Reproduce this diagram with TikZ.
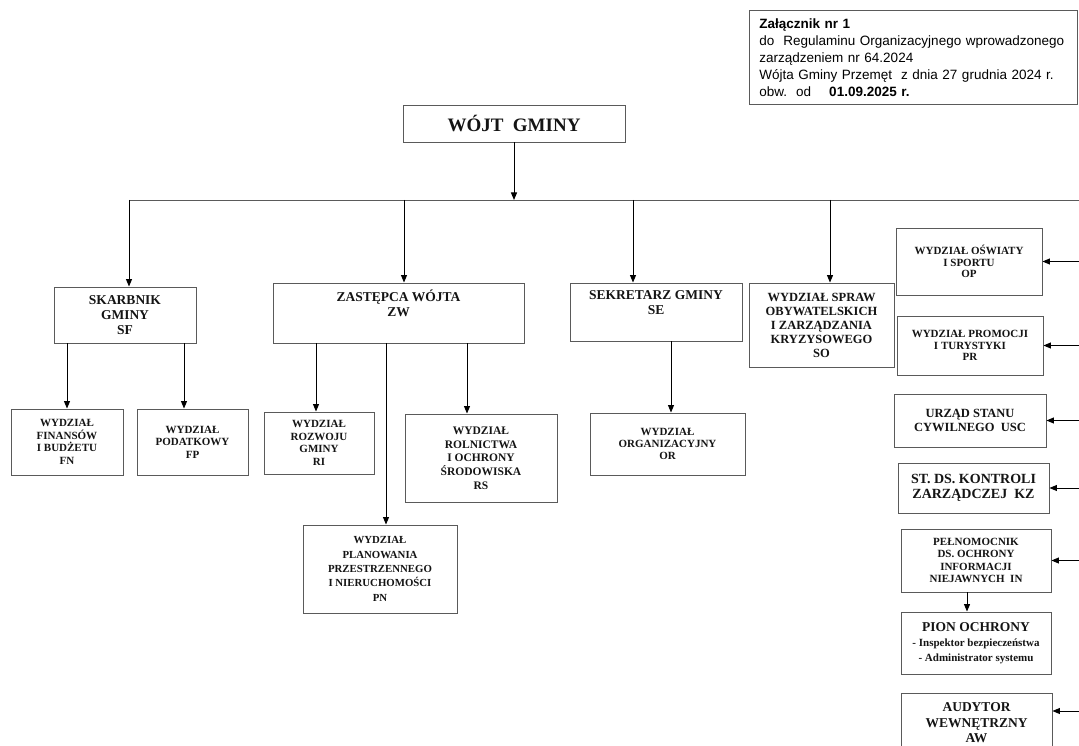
\documentclass[tikz,border=0pt]{standalone}
\usepackage{fontspec}
\setmainfont{Liberation Serif}
\setsansfont{Liberation Sans}
\usepackage{xcolor}
\usepackage{tikz}
\usetikzlibrary{arrows.meta}
\definecolor{orgGray}{RGB}{90, 90, 90}
\definecolor{orgInk}{RGB}{20, 20, 20}
\tikzset{
    post/.style={
        rectangle,
        draw=orgGray,
        line width=0.9pt,
        fill=white,
        text=orgInk,
        align=center,
        inner sep=1pt,
        font=\bfseries
    },
    note/.style={
        rectangle,
        draw=orgGray,
        line width=0.9pt,
        fill=white,
        text=black,
        align=left,
        anchor=north west,
        inner xsep=10pt,
        inner ysep=2pt,
        font=\sffamily\fontsize{13.5}{17}\selectfont
    },
    flow/.style={
        -{Triangle[length=7.5pt, width=6pt]},
        line width=1pt,
        color=black
    },
    rail/.style={
        line width=0.9pt,
        color=orgGray
    }
}

\begin{document}
\begin{tikzpicture}[x=1pt, y=-1pt]
  \useasboundingbox (0,0) rectangle (1079,746);
  \clip (0,0) rectangle (1079,746);

  % Header note
  \node[note, text width=308pt, minimum height=94pt] (att) at (749,10) {
      \textbf{Załącznik nr 1}\\
      do~~Regulaminu Organizacyjnego wprowadzonego\\
      zarządzeniem nr 64.2024\\
      Wójta Gminy Przemęt~~z dnia 27 grudnia 2024 r.\\
      obw.~~od\hspace{18pt}\textbf{01.09.2025 r.}
  };

  % Head
  \node[post, minimum width=222, minimum height=37, font=\bfseries\fontsize{19}{21}\selectfont] (wojt) at (514,123.5) {WÓJT\ \ GMINY};

  % Second level
  \node[post, minimum width=142, minimum height=56, font=\bfseries\fontsize{13.5}{15}\selectfont] (sf) at (125,315) {SKARBNIK\\GMINY\\SF};
  \node[post, minimum width=251, minimum height=60, font=\bfseries\fontsize{13.5}{15}\selectfont] (zw) at (398.5,313) {ZASTĘPCA WÓJTA\\ZW\\ \strut};
  \node[post, minimum width=172, minimum height=58, font=\bfseries\fontsize{13.5}{15}\selectfont] (se) at (656,312) {SEKRETARZ GMINY\\SE\\ \strut};
  \node[post, minimum width=145, minimum height=84, font=\bfseries\fontsize{12.5}{14}\selectfont] (so) at (821.5,325) {WYDZIAŁ SPRAW\\OBYWATELSKICH\\I ZARZĄDZANIA\\KRYZYSOWEGO\\SO};

  % Departments
  \node[post, minimum width=112, minimum height=66, font=\bfseries\fontsize{11}{12.5}\selectfont] (fn) at (67,442) {WYDZIAŁ\\FINANSÓW\\I BUDŻETU\\FN};
  \node[post, minimum width=111, minimum height=66, font=\bfseries\fontsize{11}{12.5}\selectfont] (fp) at (192.5,442) {WYDZIAŁ\\PODATKOWY\\FP};
  \node[post, minimum width=110, minimum height=62, font=\bfseries\fontsize{11}{12.5}\selectfont] (ri) at (319,443) {WYDZIAŁ\\ROZWOJU\\GMINY\\RI};
  \node[post, minimum width=152, minimum height=88, font=\bfseries\fontsize{11.5}{13.7}\selectfont] (rs) at (481,458) {WYDZIAŁ\\ROLNICTWA\\I OCHRONY\\ŚRODOWISKA\\RS};
  \node[post, minimum width=154, minimum height=88, font=\bfseries\fontsize{10.8}{14.3}\selectfont] (pn) at (380,569) {WYDZIAŁ\\PLANOWANIA\\PRZESTRZENNEGO\\I NIERUCHOMOŚCI\\PN};
  \node[post, minimum width=155, minimum height=62, font=\bfseries\fontsize{11}{12.3}\selectfont] (or) at (667.5,444) {WYDZIAŁ\\ORGANIZACYJNY\\OR};

  % Right column
  \node[post, minimum width=146, minimum height=67, font=\bfseries\fontsize{11}{11.3}\selectfont] (op) at (969,261.5) {WYDZIAŁ OŚWIATY\\I SPORTU\\OP};
  \node[post, minimum width=146, minimum height=59, font=\bfseries\fontsize{11}{11.3}\selectfont] (pr) at (970,345.5) {WYDZIAŁ PROMOCJI\\I TURYSTYKI\\PR};
  \node[post, minimum width=152, minimum height=53, font=\bfseries\fontsize{12.5}{13.5}\selectfont] (usc) at (970,420.5) {URZĄD STANU\\CYWILNEGO~~USC};
  \node[post, minimum width=151, minimum height=50, font=\bfseries\fontsize{14}{15}\selectfont] (kz) at (973.5,488) {ST. DS. KONTROLI\\ZARZĄDCZEJ~~KZ};
  \node[post, minimum width=150, minimum height=63, font=\bfseries\fontsize{11}{12.3}\selectfont] (inj) at (976,560.5) {PEŁNOMOCNIK\\DS. OCHRONY\\INFORMACJI\\NIEJAWNYCH~~IN};
  \node[post, minimum width=150, minimum height=62, font=\bfseries\fontsize{13.5}{15}\selectfont] (pion) at (976,643) {PION OCHRONY\\\fontsize{11}{14.5}\selectfont - Inspektor bezpieczeństwa\\\fontsize{11}{14.5}\selectfont - Administrator systemu};
  \node[post, minimum width=151, minimum height=60, font=\bfseries\fontsize{13.5}{15.5}\selectfont] (aw) at (976.5,723) {AUDYTOR\\WEWNĘTRZNY\\AW};

  % Rail and entry points
  \coordinate (rail) at (129,200);
  \coordinate (edge) at (1079,200);
  \coordinate (sfIn) at ([xshift=4pt]sf.north);
  \coordinate (zwIn) at ([xshift=5.5pt]zw.north);
  \coordinate (seIn) at ([xshift=-23pt]se.north);
  \coordinate (soIn) at ([xshift=8.5pt]so.north);
  \coordinate (fpIn) at ([xshift=-8.5pt]fp.north);
  \coordinate (riIn) at ([xshift=-3pt]ri.north);
  \coordinate (pnIn) at ([xshift=6pt]pn.north);
  \coordinate (rsIn) at ([xshift=-14pt]rs.north);
  \coordinate (orIn) at ([xshift=3.5pt]or.north);
  \coordinate (pionIn) at ([xshift=-9pt]pion.north);
  \coordinate (awIn) at ([yshift=12pt]aw.east);

  \draw[rail] (rail) -- (edge);
  \draw[flow] (wojt) -- (wojt |- rail);

  % Drops from the rail
  \draw[flow] (sfIn |- rail) -- (sfIn);
  \draw[flow] (zwIn |- rail) -- (zwIn);
  \draw[flow] (seIn |- rail) -- (seIn);
  \draw[flow] (soIn |- rail) -- (soIn);

  % Second level to departments
  \draw[flow] (fn |- sf.south) -- (fn);
  \draw[flow] (fpIn |- sf.south) -- (fpIn);
  \draw[flow] (riIn |- zw.south) -- (riIn);
  \draw[flow] (pnIn |- zw.south) -- (pnIn);
  \draw[flow] (rsIn |- zw.south) -- (rsIn);
  \draw[flow] (orIn |- se.south) -- (orIn);

  % Right column arrows
  \draw[flow] (edge |- op.east) -- (op.east);
  \draw[flow] (edge |- pr.east) -- (pr.east);
  \draw[flow] (edge |- usc.east) -- (usc.east);
  \draw[flow] (edge |- kz.east) -- (kz.east);
  \draw[flow] (edge |- inj.east) -- (inj.east);
  \draw[flow] (pionIn |- inj.south) -- (pionIn);
  \draw[flow] (edge |- awIn) -- (awIn);
\end{tikzpicture}
\end{document}
